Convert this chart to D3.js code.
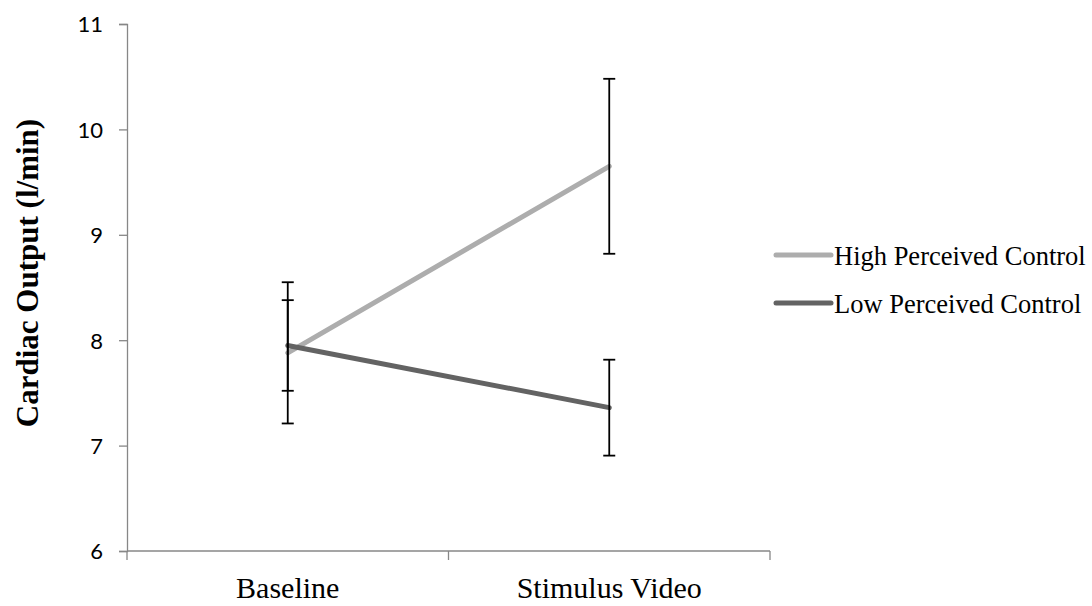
<!DOCTYPE html>
<html>
<head>
<meta charset="utf-8">
<script src="https://cdn.jsdelivr.net/npm/d3@7"></script>
<style>
  html, body { margin: 0; padding: 0; background: #ffffff; }
  svg { display: block; }
</style>
</head>
<body>
<svg id="chart" width="1092" height="606"></svg>
<script>
// Cardiac output by condition (mean ± error)
const categories = ["Baseline", "Stimulus Video"];
const seriesNames = ["High Perceived Control", "Low Perceived Control"];
const highValues = [7.88, 9.65];
const highErrors = [0.67, 0.83];
const lowValues = [7.95, 7.36];
const lowErrors = [0.43, 0.455];
const yTicks = [6, 7, 8, 9, 10, 11];

const series = [
  { name: seriesNames[0], values: highValues, errors: highErrors, color: "#adadad" },
  { name: seriesNames[1], values: lowValues, errors: lowErrors, color: "#636363" }
];

const svg = d3.select("#chart");
const plotLeft = 127, plotRight = 770, plotTop = 24, plotBottom = 551;

const x = d3.scaleBand().domain(categories).range([plotLeft, plotRight]).padding(0);
const y = d3.scaleLinear().domain([6, 11]).range([plotBottom, plotTop]);
const cx = c => x(c) + x.bandwidth() / 2;

const axisColor = "#878787";

// Y axis
const yAxis = svg.append("g")
  .attr("transform", `translate(${plotLeft},0)`)
  .call(d3.axisLeft(y).tickValues(yTicks).tickSize(8).tickPadding(16).tickFormat(d3.format("d")));
yAxis.attr("font-size", null).attr("font-family", null);
yAxis.select(".domain").attr("stroke", axisColor).attr("stroke-width", 1.3);
yAxis.selectAll(".tick line").attr("stroke", axisColor).attr("stroke-width", 1.3);
yAxis.selectAll(".tick text")
  .attr("fill", "#000")
  .attr("dy", "0.36em")
  .style("font-family", "Lato, 'Open Sans', sans-serif")
  .style("font-size", "22px");

// X axis: ticks mark the category boundaries
const xAxis = svg.append("g").attr("transform", `translate(0,${plotBottom})`);
xAxis.append("line")
  .attr("x1", plotLeft).attr("x2", plotRight).attr("y1", 0).attr("y2", 0)
  .attr("stroke", axisColor).attr("stroke-width", 1.3);
const boundaries = categories.map(c => x(c)).concat([x(categories[categories.length - 1]) + x.bandwidth()]);
xAxis.selectAll("line.bound")
  .data(boundaries)
  .join("line")
  .attr("class", "bound")
  .attr("x1", d => d).attr("x2", d => d)
  .attr("y1", 0).attr("y2", 9)
  .attr("stroke", axisColor).attr("stroke-width", 1.3);
xAxis.selectAll("text.cat")
  .data(categories)
  .join("text")
  .attr("class", "cat")
  .attr("x", d => cx(d))
  .attr("y", 47)
  .attr("text-anchor", "middle")
  .style("font-family", "'Liberation Serif', 'Times New Roman', serif")
  .style("font-size", "30px")
  .text(d => d);

// Y axis title
svg.append("text")
  .attr("transform", `translate(38,273) rotate(-90)`)
  .attr("text-anchor", "middle")
  .style("font-family", "'Liberation Serif', 'Times New Roman', serif")
  .style("font-weight", "bold")
  .style("font-size", "31px")
  .text("Cardiac Output (l/min)");

// Series lines
const line = d3.line().x((d, i) => cx(categories[i])).y(d => y(d));
svg.selectAll("path.series")
  .data(series)
  .join("path")
  .attr("class", "series")
  .attr("d", d => line(d.values))
  .attr("fill", "none")
  .attr("stroke", d => d.color)
  .attr("stroke-width", 5)
  .attr("stroke-linecap", "round");

// Error bars
const capHalf = 6;
series.forEach(s => {
  const g = svg.append("g").attr("class", "errors");
  s.values.forEach((v, i) => {
    const px = cx(categories[i]);
    const lo = y(v - s.errors[i]), hi = y(v + s.errors[i]);
    g.append("line").attr("x1", px).attr("x2", px).attr("y1", lo).attr("y2", hi)
      .attr("stroke", "#000").attr("stroke-width", 1.8);
    [lo, hi].forEach(py => {
      g.append("line").attr("x1", px - capHalf).attr("x2", px + capHalf)
        .attr("y1", py).attr("y2", py)
        .attr("stroke", "#000").attr("stroke-width", 1.8);
    });
  });
});

// Legend
const legend = svg.append("g");
series.forEach((s, i) => {
  const ly = 255 + i * 48;
  legend.append("line")
    .attr("x1", 776).attr("x2", 831).attr("y1", ly).attr("y2", ly)
    .attr("stroke", s.color).attr("stroke-width", 5).attr("stroke-linecap", "round");
  legend.append("text")
    .attr("x", 834).attr("y", ly + 10)
    .style("font-family", "'Liberation Serif', 'Times New Roman', serif")
    .style("font-size", "26.5px")
    .text(s.name);
});
</script>
</body>
</html>
